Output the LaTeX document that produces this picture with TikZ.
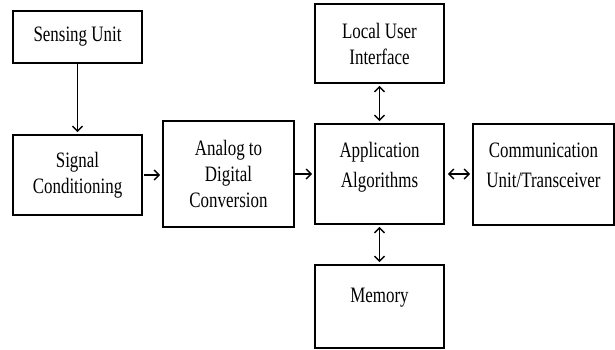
\documentclass[tikz,border=0pt]{standalone}
\usepackage{fontspec}
\setmainfont[FakeStretch=0.77]{Liberation Serif}
\usepackage{tikz}
\usetikzlibrary{positioning,arrows.meta}

\tikzset{
  block/.style={draw=black, line width=1.6pt, align=center, inner sep=0pt,
    font=\fontsize{22}{26}\selectfont},
  link/.style={black, line width=1.4pt, -{Straight Barb[length=5pt,width=10pt]}},
  dlink/.style={black, line width=1.4pt, {Straight Barb[length=5pt,width=10pt]}-{Straight Barb[length=5pt,width=10pt]}}
}

\begin{document}
\begin{tikzpicture} [x=1pt, y=-1pt]
				\useasboundingbox (0, 0) rectangle (615, 349);
				\node [block, minimum width=129, minimum height=52] (sensing) at (77.5, 37) {Sensing Unit};
				\node [block, minimum width=129, minimum height=80] (signal) at (77.5, 175) {Signal\\Conditioning};
				\node [block, minimum width=131, minimum height=106] (adc) at (228.5, 174) {Analog to\\Digital\\Conversion};
				\node [block, minimum width=129, minimum height=79] (ui) at (379.5, 43.5) {Local User\\Interface};
				\node [block, minimum width=129, minimum height=100, text depth=18pt] (app) at (379.5, 174) {Application\\[4pt]Algorithms};
				\node [block, minimum width=141, minimum height=101, text depth=18pt] (comm) at (543.5, 174.5) {Communication\\[4pt]Unit/Transceiver};
				\node [block, minimum width=129, minimum height=83, text depth=23pt] (memory) at (379.5, 306.5) {Memory};
				\draw [link, shorten >=2pt] (sensing) -- (signal);
				\draw [link, shorten <=1pt, shorten >=2pt] (signal.east) -- (signal.east -| adc.west);
				\draw [link, shorten <=0pt, shorten >=2pt] (adc.east |- app) -- (app.west);
				\draw [dlink, shorten <=3pt, shorten >=2pt] (app.east) -- (comm.west |- app.east);
				\draw [dlink, shorten <=2pt, shorten >=2pt] (ui) -- (app);
				\draw [dlink, shorten <=2pt, shorten >=2pt] (app) -- (memory);
			\end{tikzpicture}
\end{document}
